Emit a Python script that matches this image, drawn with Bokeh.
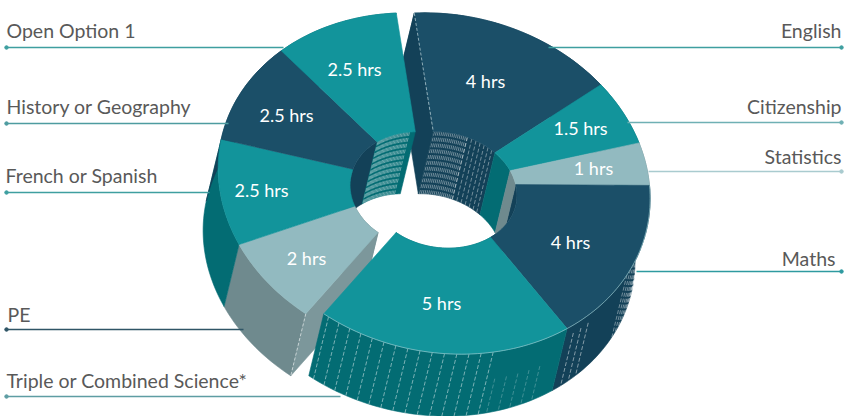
import math
from bokeh.plotting import figure
from bokeh.embed import file_html
from bokeh.resources import INLINE
from bokeh.core.properties import value

subjects = ["English", "Citizenship", "Statistics", "Maths", "Triple or Combined Science*",
            "PE", "French or Spanish", "History or Geography", "Open Option 1"]
hours = [4, 1.5, 1, 4, 5, 2, 2.5, 2.5, 2.5]
hour_labels = ["4 hrs", "1.5 hrs", "1 hrs", "4 hrs", "5 hrs", "2 hrs", "2.5 hrs", "2.5 hrs", "2.5 hrs"]

NAVY, NAVY_S = "#1B4F68", "#134158"
TEAL, TEAL_S = "#12949B", "#036C73"
PALE, PALE_S = "#92BAC0", "#6F8A8E"
PE_FACE = "#7C979B"
tops = [NAVY, TEAL, PALE, NAVY, TEAL, PALE, TEAL, NAVY, TEAL]
sides = [NAVY_S, TEAL_S, PALE_S, NAVY_S, TEAL_S, PALE_S, TEAL_S, NAVY_S, TEAL_S]
shift = [0, 0, 0, 0, 0, -18, -18, -18, -18]
START = -8.0
EX, EY = -15.0, 62.0

label_xy = [(485, 80), (580, 127), (593, 167), (570, 241), (441, 302), (306, 257), (261, 189), (286, 114), (354, 68)]
leaders = [(548, 47, 841, "#3E9FA0"), (627, 122, 841, "#6FB0B4"), (648, 171, 841, "#A9CBCF"), (636, 271, 841, "#2E9AA0"),
           (340, 396, 6, "#5E9DA3"), (243, 329, 6, "#2F5566"), (209, 192, 6, "#3E9FA0"), (228, 123, 6, "#4E9CA0"), (283, 47, 6, "#3E9FA0")]
name_xy = [(841, 29.5, "right"), (841, 105.5, "right"), (841, 155.5, "right"), (835, 257.5, "right"),
           (6, 379.5, "left"), (7, 313.5, "left"), (5, 174.5, "left"), (6, 105.5, "left"), (6, 29.5, "left")]

total = sum(hours)
bounds = [START]
for h in hours:
    bounds.append(bounds[-1] + 360.0 * h / total)


def outer(t, s=0.0):
    a = math.radians(t)
    return 442.6 + s + 207 * math.sin(a), 183 - 170 * math.cos(a) + 15 * math.sin(a)


def inner(t, s=0.0):
    a = math.radians(t)
    x = 442 + s + 74 * math.sin(a) - 4 * math.sin(2 * a)
    y = 186.5 - 58 * math.cos(a) + 5 * math.sin(a) + 3 * math.cos(2 * a)
    return x, y


def arc(fn, t0, t1, s, dx=0.0, dy=0.0):
    n = max(2, int(abs(t1 - t0) / 1.5) + 1)
    pts = [fn(t0 + (t1 - t0) * i / n, s) for i in range(n + 1)]
    return [(x + dx, y + dy) for x, y in pts]


p = figure(width=848, height=416, x_range=(0, 848), y_range=(416, 0), output_backend="svg",
           toolbar_location=None, min_border=0)
p.axis.visible = False
p.grid.visible = False
p.outline_line_color = None
p.background_fill_color = None
p.border_fill_color = None
p.styles = {"position": "absolute", "left": "0px", "top": "0px"}


def poly(pts, color, edge=None):
    p.patch([q[0] for q in pts], [q[1] for q in pts], fill_color=color,
            line_color=edge or color, line_width=0.6)


def hatch(fn, t0, t1, step, s, alpha=0.6, frac0=0.0):
    xs, ys = [], []
    t = t0
    while t < t1:
        x, y = fn(t, s)
        xs.append([x + EX * frac0, x + EX])
        ys.append([y + EY * frac0, y + EY])
        t += step
    p.multi_line(xs, ys, line_color="white", line_alpha=alpha, line_width=0.8, line_dash="4 2")


def walls(i):
    t0, t1 = bounds[i], bounds[i + 1]
    s = shift[i]
    a = arc(outer, t0, t1, s)
    poly(a + arc(outer, t1, t0, s, EX, EY), sides[i])
    b = arc(inner, t0, t1, s)
    poly(b + arc(inner, t1, t0, s, EX, EY), sides[i])


def top(i):
    t0, t1 = bounds[i], bounds[i + 1]
    s = shift[i]
    poly(arc(outer, t0, t1, s) + arc(inner, t1, t0, s), tops[i])


def face(i, t, color):
    s = shift[i]
    o, n = outer(t, s), inner(t, s)
    poly([o, n, (n[0] + EX, n[1] + EY), (o[0] + EX, o[1] + EY)], color)


# far right half
for i in (3, 0, 1, 2):
    walls(i)
hatch(inner, bounds[0] + 1, bounds[0] + 30, 1.6, 0, 0.5)
hatch(inner, bounds[0] + 30, bounds[1] - 3, 4.0, 0, 0.5)
hatch(outer, bounds[3] + 12, bounds[3] + 34, 2.2, 0, 0.5)
hatch(outer, bounds[3] + 49, bounds[3] + 56, 2.8, 0, 0.6, 0.15)
face(0, bounds[0], NAVY_S)
for i in (0, 1, 2, 3):
    top(i)

# left half
for i in (5, 6, 7, 8):
    walls(i)
hatch(inner, bounds[8] + 1, bounds[9] - 5, 1.3, -18, 0.5)
face(5, bounds[5], PE_FACE)
o5 = outer(bounds[5], -18)
p.line([o5[0], o5[0] + EX], [o5[1], o5[1] + EY], line_color="white", line_alpha=0.7, line_width=0.8, line_dash="3 2")
for i in (5, 6, 7, 8):
    top(i)

# nearest slice
walls(4)
hatch(outer, 166, bounds[5], 3.4, 0, 0.6)
hatch(outer, 150, 166, 3.4, 0, 0.3, 0.45)
top(4)

# light edge lines
pts = arc(outer, bounds[3], bounds[5], 0)
p.line([q[0] for q in pts], [q[1] for q in pts], line_color="#9CCBD0", line_alpha=0.8, line_width=0.8)
pts = [outer(bounds[0]), inner(bounds[0])]
p.line([q[0] for q in pts], [q[1] for q in pts], line_color="#CFE3E6", line_alpha=0.8, line_width=0.8, line_dash="3 2")

# leaders and names
for (x0, y, x1, c) in leaders:
    p.line([x0, x1], [y, y], line_color=c, line_width=1.5)
    p.scatter([x1], [y], size=3.5, fill_color=c, line_color=c)

for name, (x, y, al) in zip(subjects, name_xy):
    p.text([x], [y], text=[name], text_font=value("Lato"), text_font_size="19.5px",
           text_color="#595959", text_align=al, text_baseline="middle")

for lab, (x, y) in zip(hour_labels, label_xy):
    p.text([x], [y], text=[lab], text_font=value("Lato"), text_font_size="18px",
           text_color="white", text_align="center", text_baseline="middle")

open("out.html", "w").write(file_html(p, INLINE))
